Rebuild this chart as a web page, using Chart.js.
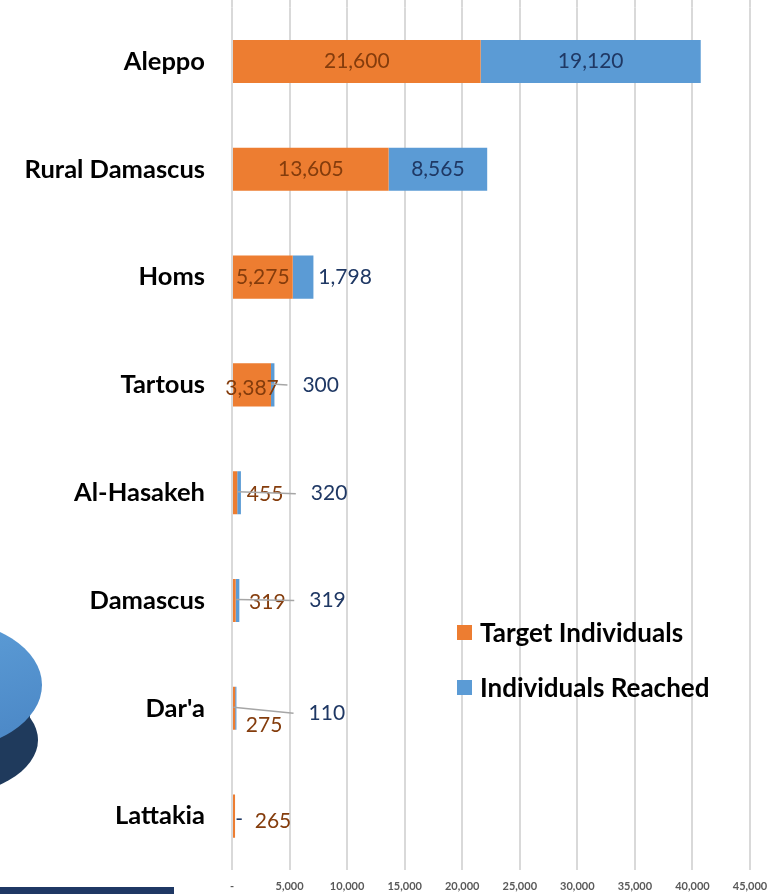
<!DOCTYPE html>
<html>
<head>
<meta charset="utf-8">
<script src="https://cdn.jsdelivr.net/npm/chart.js@4.4.1/dist/chart.umd.min.js"></script>
<style>
  html, body { margin: 0; padding: 0; background: #fff; }
  #wrap { position: relative; width: 770px; height: 894px; overflow: hidden; }
  #legend { position: absolute; left: 457px; top: 614px; font-family: Lato, "Open Sans", sans-serif; font-weight: bold; font-size: 26px; color: #000; }
  #legend div { display: flex; align-items: center; height: 36px; margin-bottom: 19px; }
  #legend span.box { width: 15px; height: 15px; margin-right: 8px; display: inline-block; }
</style>
</head>
<body>
<div id="wrap">
  <canvas id="chart" width="770" height="894"></canvas>
  <div id="legend">
    <div><span class="box" style="background:#ED7D31"></span>Target Individuals</div>
    <div><span class="box" style="background:#5B9BD5"></span>Individuals Reached</div>
  </div>
</div>
<script>
// governorates, top to bottom
const categories = ['Aleppo', 'Rural Damascus', 'Homs', 'Tartous', 'Al-Hasakeh', 'Damascus', "Dar'a", 'Lattakia'];
const targetIndividuals = [21600, 13605, 5275, 3387, 455, 319, 275, 265];
const individualsReached = [19120, 8565, 1798, 300, 320, 319, 110, 0];
const xTicks = [0, 5000, 10000, 15000, 20000, 25000, 30000, 35000, 40000, 45000];

// manual label nudges (px), like the hand-moved labels in the original
const targetNudge = [[0, 0], [0, 0], [0, 0], [0, 3], [30, 2], [33, 2], [30, 17], [39, 5]];
const reachedNudge = [[0, 0], [0, 0], [42, 0], [48, 0], [90, 1], [90, 0], [91, 5], [4, 3]];

const fmt = v => v === 0 ? '-' : v.toLocaleString('en-US');

// draws the bar values plus grey leader lines for the thin segments
const valueLabels = {
    id: 'valueLabels',
    afterDatasetsDraw(chart) {
        const ctx = chart.ctx;
        ctx.save();
        ctx.font = '21px Lato, "Open Sans", sans-serif';
        ctx.textAlign = 'center';
        ctx.textBaseline = 'middle';
        chart.data.datasets.forEach((ds, di) => {
            const meta = chart.getDatasetMeta(di);
            const nudges = di === 0 ? targetNudge : reachedNudge;
            meta.data.forEach((el, i) => {
                const value = ds.data[i];
                const segW = Math.abs(el.x - el.base);
                const cx = (el.x + el.base) / 2 + nudges[i][0];
                const cy = el.y + nudges[i][1];
                const text = fmt(value);
                if (di === 1 && value > 0 && segW < 8) {
                    const tw = ctx.measureText(text).width;
                    ctx.strokeStyle = '#A6A6A6';
                    ctx.lineWidth = 1.5;
                    ctx.beginPath();
                    ctx.moveTo(el.x - 3, el.y - 1);
                    ctx.lineTo(cx - tw / 2 - 15, cy);
                    ctx.stroke();
                }
                ctx.fillStyle = di === 0 ? '#843C0C' : '#1F3864';
                ctx.fillText(text, cx, cy);
            });
        });
        ctx.restore();
    }
};

// grid lines in the original run to the very top edge, and bits of the neighbouring slide show at the left
const backdrop = {
    id: 'backdrop',
    beforeDraw(chart) {
        const ctx = chart.ctx;
        const xs = chart.scales.x;
        ctx.save();
        ctx.strokeStyle = '#D9D9D9';
        ctx.lineWidth = 2;
        xTicks.forEach(t => {
            const px = Math.round(xs.getPixelForValue(t));
            ctx.beginPath();
            ctx.moveTo(px, 0);
            ctx.lineTo(px, chart.chartArea.top);
            ctx.stroke();
        });
        // cropped 3D pie edge
        ctx.fillStyle = '#1F3A5C';
        ctx.beginPath();
        ctx.ellipse(-62, 740, 100, 57, 0, 0, Math.PI * 2);
        ctx.fill();
        ctx.fillRect(-170, 685, 200, 55);
        ctx.fillStyle = '#2C5382';
        ctx.fillRect(-170, 685, 138, 55);
        const g = ctx.createLinearGradient(0, 620, 40, 745);
        g.addColorStop(0, '#5B9BD5');
        g.addColorStop(1, '#4A86C5');
        ctx.fillStyle = g;
        ctx.beginPath();
        ctx.ellipse(-62, 685, 104, 66, 0, 0, Math.PI * 2);
        ctx.fill();
        // cropped dark box at the bottom
        ctx.fillStyle = '#1F3864';
        ctx.fillRect(0, 887, 174, 7);
        ctx.restore();
    }
};

new Chart(document.getElementById('chart'), {
    type: 'bar',
    data: {
        labels: categories,
        datasets: [
            { label: 'Target Individuals', data: targetIndividuals, backgroundColor: '#ED7D31', barPercentage: 0.4, categoryPercentage: 1 },
            { label: 'Individuals Reached', data: individualsReached, backgroundColor: '#5B9BD5', barPercentage: 0.4, categoryPercentage: 1 }
        ]
    },
    options: {
        indexAxis: 'y',
        responsive: false,
        animation: false,
        layout: { padding: { top: 7.6, right: 20, left: 0, bottom: 0 } },
        plugins: { legend: { display: false }, tooltip: { enabled: false } },
        scales: {
            x: {
                stacked: true,
                min: 0,
                max: 45000,
                afterBuildTicks: scale => { scale.ticks = xTicks.map(v => ({ value: v })); },
                afterFit: scale => {
                    scale.height = 24;
                    scale.paddingLeft = 0;
                    scale.paddingRight = 0;
                },
                grid: { color: '#D9D9D9', lineWidth: 2, drawTicks: false },
                border: { display: false },
                ticks: {
                    padding: 10,
                    color: '#595959',
                    font: { family: 'Lato, "Open Sans", sans-serif', size: 11, weight: 'bold' },
                    callback: v => fmt(v)
                }
            },
            y: {
                stacked: true,
                afterFit: scale => {
                    scale.width = 232;
                    scale.paddingTop = 0;
                    scale.paddingBottom = 0;
                },
                grid: { display: false, drawTicks: false },
                border: { display: false },
                ticks: {
                    padding: 27,
                    color: '#000',
                    font: { family: 'Lato, "Open Sans", sans-serif', size: 25.5, weight: 'bold' }
                }
            }
        }
    },
    plugins: [backdrop, valueLabels]
});
</script>
</body>
</html>
